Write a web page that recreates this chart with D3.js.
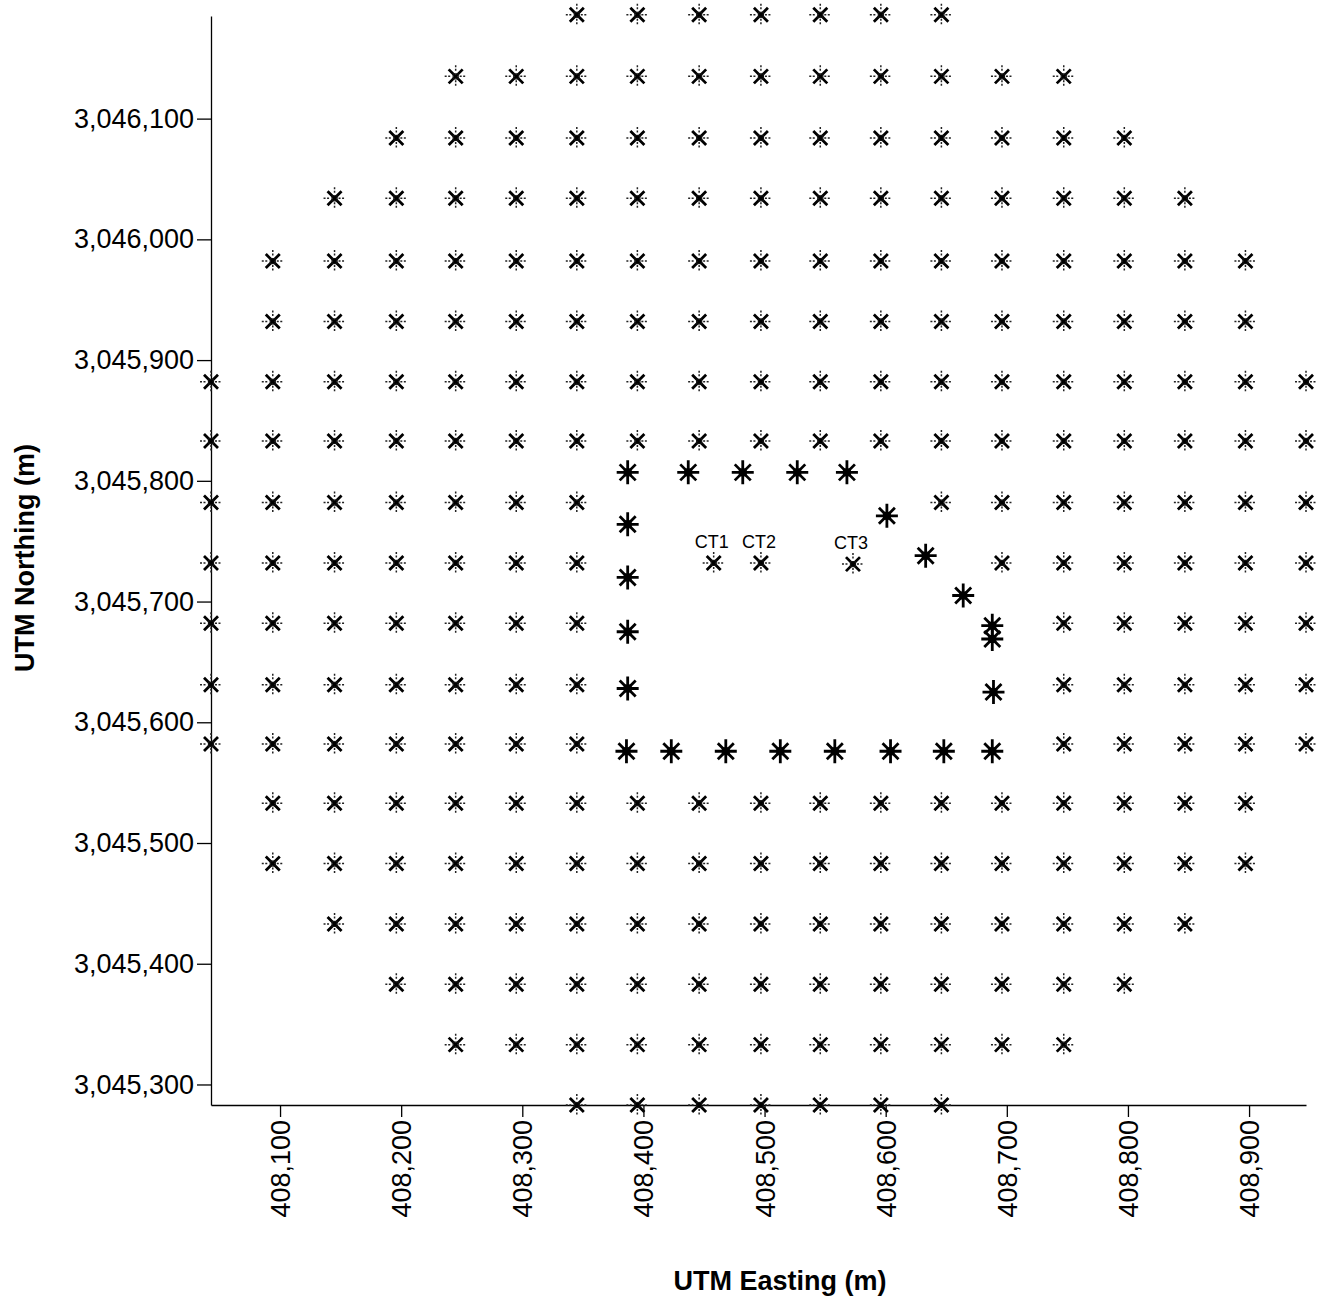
<!DOCTYPE html>
<html lang="en">
<head>
    <title>UTM grid</title>
    <script src="https://d3js.org/d3.v7.min.js"></script>
    <style>
        body { margin: 0; background: #fff; }
        * { font-family: "Liberation Sans", Arial, sans-serif; }
        .tick text { font-size: 27px; fill: #000; }
        .tick line, .domain { stroke: #000; stroke-width: 1.3px; }
        .title { font-size: 27px; font-weight: bold; }
        .ct { font-size: 18px; }
    </style>
</head>
<body>
<svg class="map"></svg>
<script>
    // grid columns (easting) and rows (northing)
    const eastings = [408043, 408094, 408145, 408196, 408245, 408295, 408345, 408395, 408446, 408497,
                      408546, 408596, 408646, 408696, 408747, 408797, 408847, 408897, 408947];
    const northings = [3046186, 3046135, 3046084, 3046034, 3045982, 3045932, 3045882, 3045833, 3045782, 3045732,
                       3045682, 3045631, 3045582, 3045533, 3045483, 3045433, 3045383, 3045333, 3045283];

    // which grid cells hold a station, one string per row (top to bottom), one char per column
    const rowMask = [
        "......xxxxxxx......",
        "....xxxxxxxxxxx....",
        "...xxxxxxxxxxxxx...",
        "..xxxxxxxxxxxxxxx..",
        ".xxxxxxxxxxxxxxxxx.",
        ".xxxxxxxxxxxxxxxxx.",
        "xxxxxxxxxxxxxxxxxxx",
        "xxxxxxxxxxxxxxxxxxx",
        "xxxxxxx.....xxxxxxx",
        "xxxxxxx......xxxxxx",
        "xxxxxxx.......xxxxx",
        "xxxxxxx.......xxxxx",
        "xxxxxxx.......xxxxx",
        ".xxxxxxxxxxxxxxxxx.",
        ".xxxxxxxxxxxxxxxxx.",
        "..xxxxxxxxxxxxxxx..",
        "...xxxxxxxxxxxxx...",
        "....xxxxxxxxxxx....",
        "......xxxxxxx......"
    ];

    // labelled stations
    const ctLabels = ["CT1", "CT2", "CT3"];
    const ctEast = [408458, 408497, 408573];
    const ctNorth = [3045732, 3045732, 3045731];

    // bold stations around the inner area
    const starEast = [408387, 408437, 408482, 408527, 408568, 408601, 408387, 408633, 408387, 408664,
                      408387, 408688, 408688, 408387, 408689,
                      408386, 408423, 408468, 408513, 408558, 408604, 408648, 408688];
    const starNorth = [3045807, 3045807, 3045807, 3045807, 3045807, 3045771, 3045764, 3045738, 3045720, 3045705,
                       3045675, 3045680, 3045669, 3045628, 3045625,
                       3045576, 3045576, 3045576, 3045576, 3045576, 3045576, 3045576, 3045576];

    const xTicks = [408100, 408200, 408300, 408400, 408500, 408600, 408700, 408800, 408900];
    const yTicks = [3045300, 3045400, 3045500, 3045600, 3045700, 3045800, 3045900, 3046000, 3046100];

    const width = 1318, height = 1297;
    const x = d3.scaleLinear().domain([408043, 408947]).range([211, 1306]);
    const y = d3.scaleLinear().domain([3045283, 3046185]).range([1105, 16]);

    const svg = d3.select("svg.map").attr("width", width).attr("height", height);

    // axes
    svg.append("g")
        .attr("transform", "translate(211,0)")
        .call(d3.axisLeft(y).tickValues(yTicks).tickFormat(d3.format(","))
            .tickSize(14).tickSizeOuter(0).tickPadding(3));

    const xAxis = svg.append("g")
        .attr("transform", "translate(0,1105)")
        .call(d3.axisBottom(x).tickValues(xTicks).tickFormat(d3.format(","))
            .tickSize(12).tickSizeOuter(0));
    xAxis.selectAll(".tick text")
        .attr("transform", "rotate(-90)")
        .attr("text-anchor", "end")
        .attr("x", -15)
        .attr("y", 0)
        .attr("dy", "0.35em");

    svg.selectAll(".domain").attr("fill", "none");

    // axis titles
    svg.append("text").attr("class", "title")
        .attr("x", 780).attr("y", 1290)
        .attr("text-anchor", "middle")
        .text("UTM Easting (m)");
    svg.append("text").attr("class", "title")
        .attr("transform", "translate(34,558) rotate(-90)")
        .attr("text-anchor", "middle")
        .text("UTM Northing (m)");

    // grid stations
    const grid = [];
    rowMask.forEach((row, r) => {
        row.split("").forEach((c, k) => {
            if (c === "x") grid.push({e: eastings[k], n: northings[r]});
        });
    });
    ctEast.forEach((e, i) => grid.push({e: e, n: ctNorth[i], label: ctLabels[i]}));

    const gm = svg.append("g").selectAll("g")
        .data(grid)
        .enter().append("g")
        .attr("transform", d => `translate(${x(d.e)},${y(d.n)})`);
    gm.append("path")
        .attr("d", "M-11,0H-4M4,0H11M0,-11V-4M0,4V11")
        .attr("stroke", "#222").attr("stroke-width", 1.5)
        .attr("stroke-dasharray", "2,1.5");
    gm.append("path")
        .attr("d", "M-7,-7L7,7M-7,7L7,-7")
        .attr("stroke", "#000").attr("stroke-width", 2.8);
    gm.append("rect")
        .attr("x", -2.5).attr("y", -2.5).attr("width", 5).attr("height", 5)
        .attr("fill", "none").attr("stroke", "#111").attr("stroke-width", 1.2);

    svg.append("g").selectAll("text")
        .data(grid.filter(d => d.label))
        .enter().append("text").attr("class", "ct")
        .attr("x", d => x(d.e) - 2)
        .attr("y", d => y(d.n) - 15)
        .attr("text-anchor", "middle")
        .text(d => d.label);

    // bold stations
    const sm = svg.append("g").selectAll("g")
        .data(starEast.map((e, i) => ({e: e, n: starNorth[i]})))
        .enter().append("g")
        .attr("transform", d => `translate(${x(d.e)},${y(d.n)})`);
    sm.append("path")
        .attr("d", "M-11,0H11M0,-12V12M-8,-8L8,8M-8,8L8,-8")
        .attr("stroke", "#000").attr("stroke-width", 2.8);
    sm.append("rect")
        .attr("x", -4).attr("y", -4).attr("width", 8).attr("height", 8)
        .attr("fill", "#000");
</script>
</body>
</html>
